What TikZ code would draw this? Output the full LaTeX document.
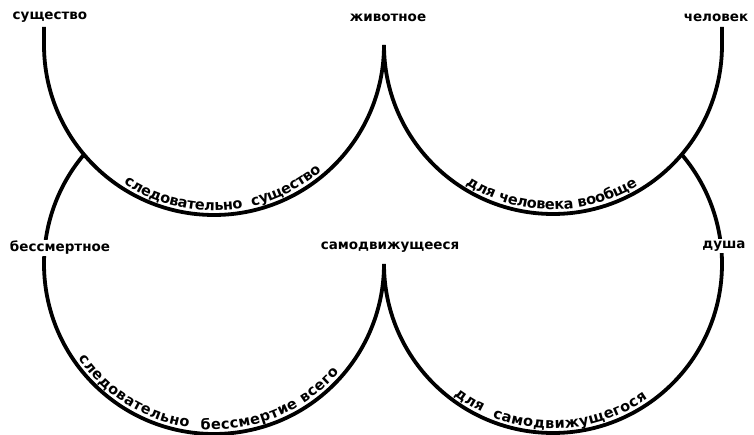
\documentclass[tikz,border=0pt]{standalone}
\usepackage{fontspec}
\setmainfont{DejaVu Sans}
\usetikzlibrary{decorations.text,calc}
\newcommand\labfont{\fontsize{13.5}{15}\selectfont\bfseries}
\newcommand\arcfont{\fontsize{14.5}{16}\selectfont\bfseries}
\begin{document}
\begin{tikzpicture}[x=1pt,y=1pt,
  arcline/.style={line width=3.8pt, black},
  lab/.style={fill=white, inner sep=1.5pt, font=\labfont},
  arctext/.style={decorate, decoration={text along path, text align=fit to path, raise=4.5pt, text={|\arcfont|#1}}}]
\useasboundingbox (0,0) rectangle (754,-435);
% circle centres
\coordinate (TLc) at (214,-45);
\coordinate (TRc) at (553,-45);
\coordinate (BLc) at (214,-264);
\coordinate (BRc) at (553,-264);
% named points
\coordinate (sTop) at (44,-27);
\coordinate (sArc) at (44,-45);
\coordinate (cusp1) at (384,-45);
\coordinate (hTop) at (722,-27);
\coordinate (jL) at ($(BLc)+(139.9:170)$);
\coordinate (cusp2) at (384,-264);
% arcs
\draw[arcline] (sTop) -- (sArc) arc (180:360:170);
\draw[arcline] (cusp1) arc (180:360:169) -- (hTop);
\draw[arcline] (jL) arc (139.9:360:170);
\draw[arcline] (cusp2) arc (180:400.4:169);
% labels
\node[lab] (sush) at (50,-17) {существо};
\node[lab] (zhiv) at (388,-18) {животное};
\node[lab] (chel) at (716,-18) {человек};
\node[lab] (bess) at (60,-248) {бессмертное};
\node[lab] (samo) at (390,-247) {самодвижущееся};
\node[lab] (dush) at (724,-246) {душа};
% texts along arcs
\path[arctext={следовательно\ \ существо}] ($(TLc)+(237:170)$) arc (237:309:170);
\path[arctext={для человека вообще}] ($(TRc)+(238:169)$) arc (238:301:169);
\path[arctext={следовательно\ \ бессмертие всего}] ($(BLc)+(215:170)$) arc (215:319:170);
\path[arctext={для\ \ самодвижущегося}] ($(BRc)+(233:169)$) arc (233:305:169);
\end{tikzpicture}
\end{document}
